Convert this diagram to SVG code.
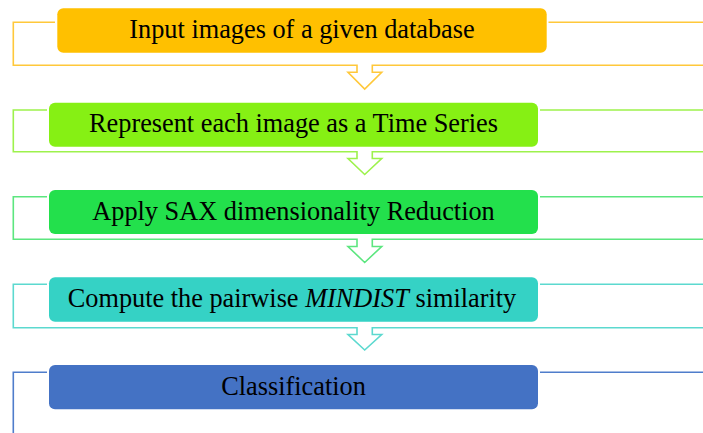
<svg xmlns="http://www.w3.org/2000/svg" width="703" height="433" viewBox="0 0 703 433">
<style>
.lbl{font-family:"Liberation Serif","Times New Roman",serif;font-size:26.3px;fill:#000;text-anchor:middle}
.fr{fill:none;stroke-width:1.6;stroke-linejoin:miter}
.box{stroke:none}
</style>
<rect width="703" height="433" fill="#fff"/>
<g id="connectors">
  <path class="fr" stroke="#FFC83A" d="M55 22.3 H13.3 V65.3 H357 V72.3 H348 L364.7 89 L381.7 72.3 H372.3 V65.3 H703 M548.5 22.3 H703"/>
  <path class="fr" stroke="#9DF24C" d="M47 110 H13.3 V151.7 H357 V158.5 H348 L364.7 174.5 L381.7 158.5 H372.3 V151.7 H703 M540 110 H703"/>
  <path class="fr" stroke="#5CE67F" d="M47 196.7 H13.3 V239.3 H357 V246.5 H348 L364.7 262.5 L381.7 246.5 H372.3 V239.3 H703 M540 196.7 H703"/>
  <path class="fr" stroke="#5CD9CF" d="M47 284.3 H13.3 V327.7 H357 V334.5 H348 L364.7 350 L381.7 334.5 H372.3 V327.7 H703 M540 284.3 H703"/>
  <path class="fr" stroke="#4F7DCB" d="M47 372.3 H13.3 V433 M540 372.3 H703"/>
</g>
<g id="node1">
  <rect class="box" x="57.3" y="8.3" width="489.4" height="44.4" rx="6" fill="#FFC000"/>
  <text class="lbl" x="302" y="38">Input images of a given database</text>
</g>
<g id="node2">
  <rect class="box" x="49" y="102.7" width="489" height="44" rx="6" fill="#86F014"/>
  <text class="lbl" x="293.5" y="132">Represent each image as a Time Series</text>
</g>
<g id="node3">
  <rect class="box" x="49" y="190" width="489" height="44" rx="6" fill="#23E04C"/>
  <text class="lbl" x="293.5" y="219.5">Apply SAX dimensionality Reduction</text>
</g>
<g id="node4">
  <rect class="box" x="49" y="277.3" width="489" height="44.4" rx="6" fill="#35D2C5"/>
  <text class="lbl" x="292" y="307">Compute the pairwise <tspan font-style="italic">MINDIST</tspan> similarity</text>
</g>
<g id="node5">
  <rect class="box" x="49" y="365" width="489" height="44.3" rx="6" fill="#4472C4"/>
  <text class="lbl" x="293.5" y="394.5">Classification</text>
</g>
</svg>
